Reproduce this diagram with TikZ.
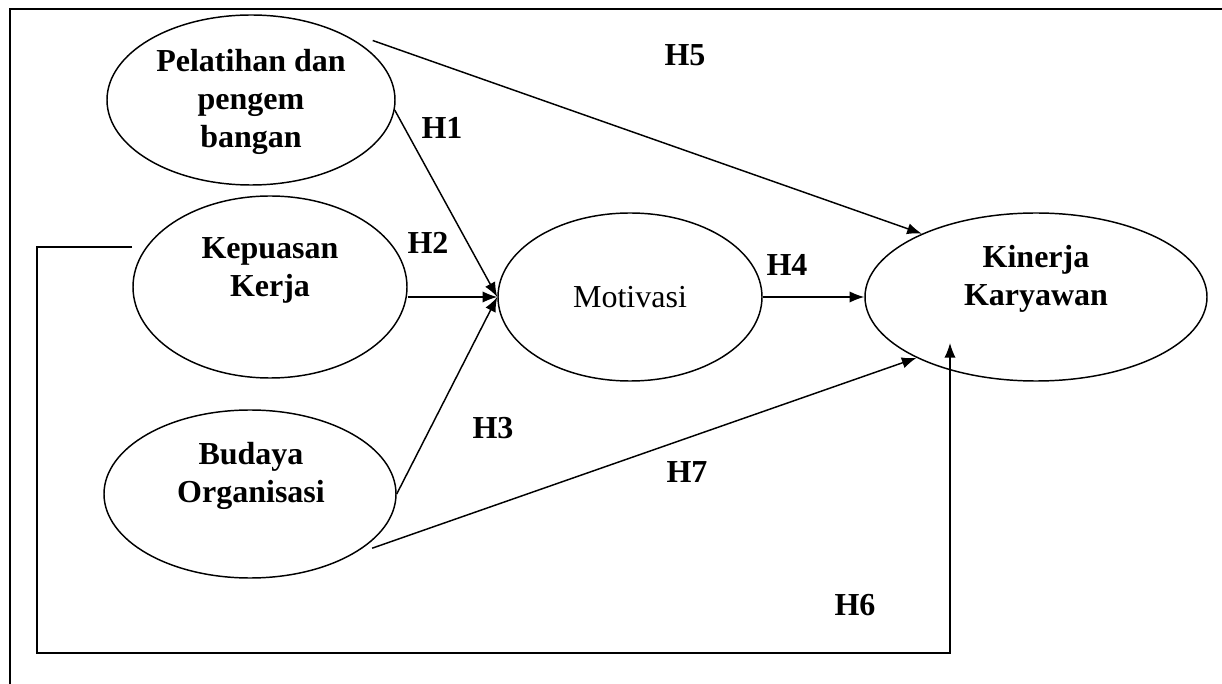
\documentclass[tikz,border=0pt]{standalone}
\usepackage{fontspec}
\setmainfont{Liberation Serif}
\usetikzlibrary{arrows.meta,shapes.geometric}

\tikzset{
  konstruk/.style={draw, ellipse, line width=1.1pt, inner sep=0pt},
  teks/.style={align=center, font=\fontsize{24}{28.5}\selectfont\bfseries},
  hipo/.style={font=\fontsize{24}{28}\selectfont\bfseries},
  panah/.style={line width=1.1pt, -{Latex[length=11pt,width=8.5pt]}},
}

\begin{document}
\begin{tikzpicture}[x=0.75pt,y=-0.75pt]
  \useasboundingbox (0,0) rectangle (1222,684);

  % Bingkai
  \draw[line width=1.5pt] (10,684) -- (10,9) -- (1222,9);

  % Pelatihan dan pengembangan
  \node[konstruk, minimum width=216pt, minimum height=127.5pt] (pel) at (251,100) {};
  \node[teks] (pel-t) at (251,102) {Pelatihan dan\\pengem\\bangan};

  % Kepuasan kerja
  \node[konstruk, minimum width=205.5pt, minimum height=136.5pt] (kep) at (270,287) {};
  \node[teks] (kep-t) at (270,270) {Kepuasan\\Kerja};

  % Budaya organisasi
  \node[konstruk, minimum width=219pt, minimum height=126pt] (bud) at (250,494) {};
  \node[teks] (bud-t) at (251,476) {Budaya\\Organisasi};

  % Motivasi
  \node[konstruk, minimum width=198pt, minimum height=126pt] (mot) at (630,297) {};
  \node[teks, font=\fontsize{24}{28.5}\selectfont] (mot-t) at (630,297) {Motivasi};

  % Kinerja karyawan
  \node[konstruk, minimum width=256.5pt, minimum height=126pt] (kin) at (1036,297) {};
  \node[teks] (kin-t) at (1036,279) {Kinerja\\Karyawan};

  % Panah hipotesis
  \draw[panah] (pel.-4) -- (mot.west);
  \draw[panah] (mot.west -| kep.east) -- (mot.west);
  \draw[panah] (bud.east) -- (mot.west);
  \draw[panah] (mot.east) -- (kin.west);
  \draw[panah] ([shift={(6,-8)}]pel.24) -- (kin.151);
  \draw[panah] ([shift={(4,4)}]bud.-23) -- (kin.207);
  \coordinate (sudut) at (37,653);
  \draw[panah] ([xshift=-10.5pt]kep.162) -| (sudut) -| ([shift={(-64.5pt,-34.5pt)}]kin.center);

  % Label H
  \node[hipo] (h1) at (442,128) {H1};
  \node[hipo] (h2) at (428,243) {H2};
  \node[hipo] (h3) at (493,428) {H3};
  \node[hipo] (h4) at (787,265) {H4};
  \node[hipo] (h5) at (685,55) {H5};
  \node[hipo] (h6) at (855,605) {H6};
  \node[hipo] (h7) at (687,472) {H7};
\end{tikzpicture}
\end{document}
